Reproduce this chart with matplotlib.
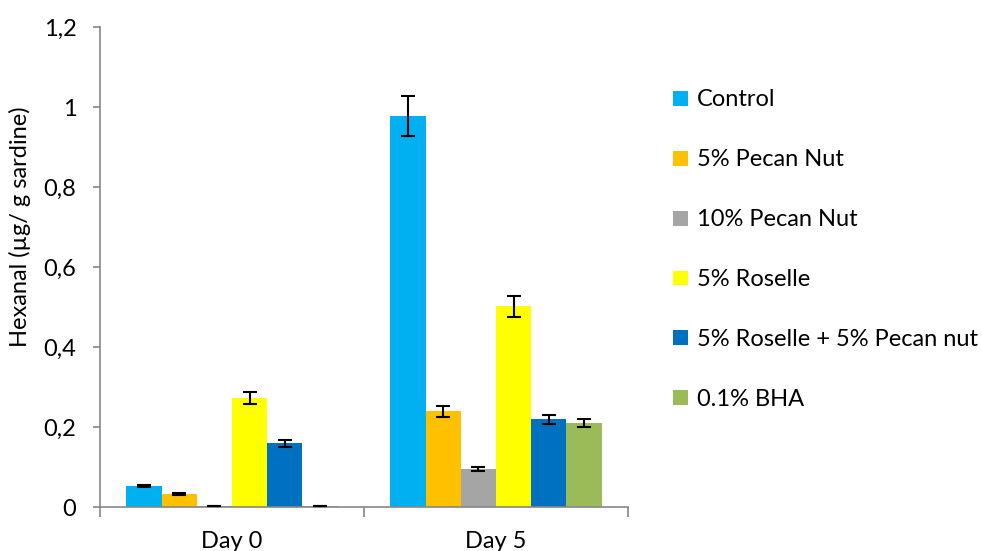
import matplotlib
matplotlib.use("Agg")
import matplotlib.pyplot as plt
import numpy as np

plt.rcParams['font.family'] = ['Lato', 'DejaVu Sans']

# datos
dias = ["Day 0", "Day 5"]
series = ["Control", "5% Pecan Nut", "10% Pecan Nut", "5% Roselle",
          "5% Roselle + 5% Pecan nut", "0.1% BHA"]
colores = ["#00B0F0", "#FFC000", "#A5A5A5", "#FFFF00", "#0070C0", "#9BBB59"]

control = [0.052, 0.978]
pecan5 = [0.032, 0.239]
pecan10 = [0.002, 0.095]
roselle = [0.273, 0.502]
roselle_pecan = [0.159, 0.219]
bha = [0.002, 0.210]

err_control = [0.003, 0.050]
err_pecan5 = [0.002, 0.013]
err_pecan10 = [0.0, 0.005]
err_roselle = [0.015, 0.026]
err_roselle_pecan = [0.008, 0.012]
err_bha = [0.0, 0.011]

valores = [control, pecan5, pecan10, roselle, roselle_pecan, bha]
errores = [err_control, err_pecan5, err_pecan10, err_roselle, err_roselle_pecan, err_bha]

fig = plt.figure(figsize=(9.82, 5.51), dpi=100)
ax = fig.add_axes([100 / 982, 44 / 551, 528 / 982, 480 / 551])

n = len(series)
ancho = 0.8 / n
x = np.arange(len(dias)) + 0.5
for i, (nombre, vals, errs, col) in enumerate(zip(series, valores, errores, colores)):
    pos = x - 0.4 + ancho * (i + 0.5)
    ax.bar(pos, vals, width=ancho, color=col, label=nombre, zorder=2)
    ax.errorbar(pos, vals, yerr=errs, fmt="none", ecolor="black",
                elinewidth=1.5, capsize=5, capthick=1.5, zorder=3)

ax.set_xlim(0, len(dias))
ax.set_ylim(0, 1.2)
ax.set_yticks(np.arange(0, 1.21, 0.2))
ax.set_yticklabels(["0", "0,2", "0,4", "0,6", "0,8", "1", "1,2"])

ax.set_xticks(np.arange(len(dias) + 1))
ax.set_xticklabels([])
ax.set_xticks(x, minor=True)
ax.set_xticklabels(dias, minor=True)
ax.tick_params(axis="x", which="major", length=7, color="#868686", width=1.2)
ax.tick_params(axis="x", which="minor", length=0, pad=17, labelsize=17)
ax.tick_params(axis="y", length=5, color="#868686", width=1.2, pad=12, labelsize=17)

for s in ["top", "right"]:
    ax.spines[s].set_visible(False)
for s in ["left", "bottom"]:
    ax.spines[s].set_color("#868686")
    ax.spines[s].set_linewidth(1.2)

fig.text(20 / 982, 1 - 227 / 551, "Hexanal (µg/ g sardine)", rotation=90,
         ha="center", va="center", fontsize=17)

ax.legend(loc="upper left", bbox_to_anchor=(664 / 982, 1 - 80 / 551),
          bbox_transform=fig.transFigure, frameon=False, fontsize=17,
          handlelength=0.6, handleheight=0.6, handletextpad=0.4,
          labelspacing=1.65, borderaxespad=0)

fig.savefig("out.png", dpi=100)
